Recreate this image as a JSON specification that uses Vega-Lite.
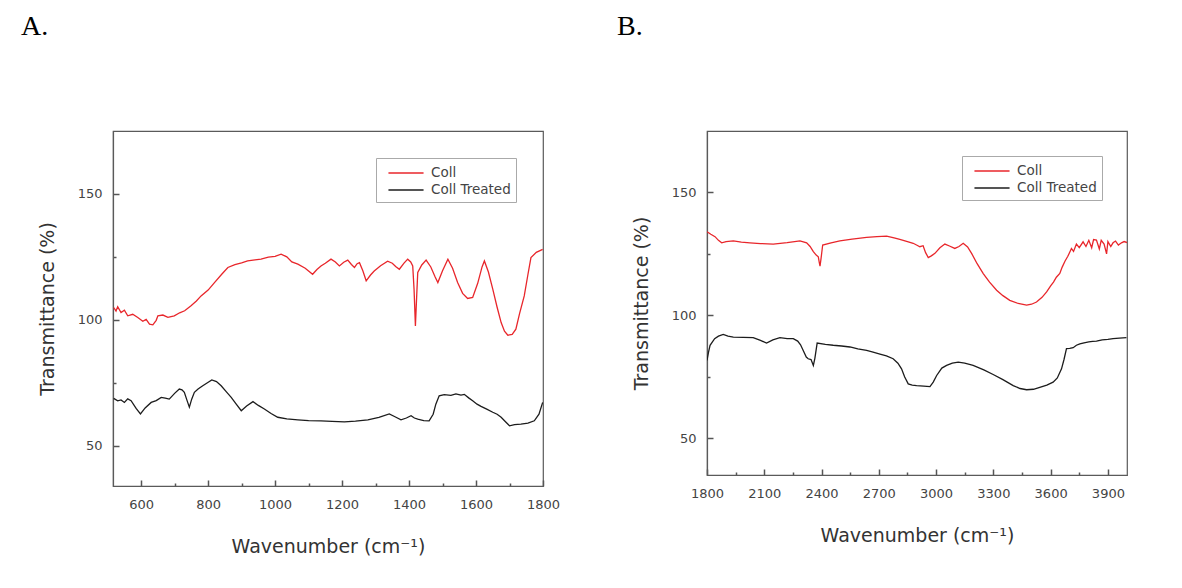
{
  "$schema": "https://vega.github.io/schema/vega-lite/v6.json",
  "background": "white",
  "padding": {"left": 20, "top": 12, "right": 0, "bottom": 0},
  "spacing": 55,
  "datasets": {
    "a": [
      {"series":"Coll","x":518,"y":104.9},{"series":"Coll","x":525,"y":103.5},{"series":"Coll","x":530,"y":105.2},{"series":"Coll","x":540,"y":102.9},{"series":"Coll","x":550,"y":103.8},{"series":"Coll","x":560,"y":101.6},{"series":"Coll","x":575,"y":102.2},{"series":"Coll","x":590,"y":100.9},{"series":"Coll","x":605,"y":99.4},{"series":"Coll","x":615,"y":100.2},{"series":"Coll","x":625,"y":98.3},{"series":"Coll","x":635,"y":98.0},{"series":"Coll","x":645,"y":99.8},{"series":"Coll","x":650,"y":101.6},{"series":"Coll","x":665,"y":101.9},{"series":"Coll","x":680,"y":101.0},{"series":"Coll","x":699,"y":101.6},{"series":"Coll","x":715,"y":102.8},{"series":"Coll","x":730,"y":103.6},{"series":"Coll","x":749,"y":105.6},{"series":"Coll","x":765,"y":107.5},{"series":"Coll","x":779,"y":109.5},{"series":"Coll","x":800,"y":111.8},{"series":"Coll","x":819,"y":114.8},{"series":"Coll","x":840,"y":118.0},{"series":"Coll","x":859,"y":120.8},{"series":"Coll","x":880,"y":121.9},{"series":"Coll","x":900,"y":122.6},{"series":"Coll","x":918,"y":123.4},{"series":"Coll","x":940,"y":123.8},{"series":"Coll","x":958,"y":124.1},{"series":"Coll","x":980,"y":124.9},{"series":"Coll","x":1000,"y":125.2},{"series":"Coll","x":1018,"y":126.1},{"series":"Coll","x":1035,"y":125.0},{"series":"Coll","x":1050,"y":123.0},{"series":"Coll","x":1068,"y":122.1},{"series":"Coll","x":1090,"y":120.5},{"series":"Coll","x":1112,"y":118.1},{"series":"Coll","x":1125,"y":120.0},{"series":"Coll","x":1137,"y":121.4},{"series":"Coll","x":1150,"y":122.5},{"series":"Coll","x":1167,"y":124.1},{"series":"Coll","x":1180,"y":123.0},{"series":"Coll","x":1192,"y":121.4},{"series":"Coll","x":1205,"y":122.9},{"series":"Coll","x":1217,"y":123.7},{"series":"Coll","x":1228,"y":122.0},{"series":"Coll","x":1237,"y":120.8},{"series":"Coll","x":1245,"y":122.3},{"series":"Coll","x":1252,"y":122.7},{"series":"Coll","x":1262,"y":119.5},{"series":"Coll","x":1272,"y":115.5},{"series":"Coll","x":1285,"y":117.8},{"series":"Coll","x":1296,"y":119.4},{"series":"Coll","x":1315,"y":121.5},{"series":"Coll","x":1336,"y":123.3},{"series":"Coll","x":1350,"y":122.5},{"series":"Coll","x":1360,"y":121.2},{"series":"Coll","x":1371,"y":120.1},{"series":"Coll","x":1385,"y":122.5},{"series":"Coll","x":1396,"y":124.1},{"series":"Coll","x":1405,"y":123.0},{"series":"Coll","x":1411,"y":121.4},{"series":"Coll","x":1415,"y":112.0},{"series":"Coll","x":1419,"y":97.6},{"series":"Coll","x":1423,"y":110.0},{"series":"Coll","x":1426,"y":118.8},{"series":"Coll","x":1438,"y":121.8},{"series":"Coll","x":1451,"y":123.7},{"series":"Coll","x":1465,"y":121.0},{"series":"Coll","x":1478,"y":117.0},{"series":"Coll","x":1486,"y":114.8},{"series":"Coll","x":1500,"y":119.5},{"series":"Coll","x":1516,"y":124.1},{"series":"Coll","x":1530,"y":120.5},{"series":"Coll","x":1545,"y":114.8},{"series":"Coll","x":1560,"y":110.5},{"series":"Coll","x":1575,"y":108.5},{"series":"Coll","x":1590,"y":108.9},{"series":"Coll","x":1605,"y":114.5},{"series":"Coll","x":1618,"y":121.0},{"series":"Coll","x":1625,"y":123.4},{"series":"Coll","x":1637,"y":119.0},{"series":"Coll","x":1650,"y":112.2},{"series":"Coll","x":1663,"y":105.0},{"series":"Coll","x":1675,"y":98.9},{"series":"Coll","x":1685,"y":95.5},{"series":"Coll","x":1695,"y":93.9},{"series":"Coll","x":1708,"y":94.2},{"series":"Coll","x":1719,"y":96.3},{"series":"Coll","x":1730,"y":102.5},{"series":"Coll","x":1744,"y":109.5},{"series":"Coll","x":1755,"y":118.0},{"series":"Coll","x":1764,"y":124.7},{"series":"Coll","x":1780,"y":126.8},{"series":"Coll","x":1799,"y":128.0},
      {"series":"Coll Treated","x":518,"y":68.8},{"series":"Coll Treated","x":530,"y":67.8},{"series":"Coll Treated","x":540,"y":68.2},{"series":"Coll Treated","x":550,"y":67.2},{"series":"Coll Treated","x":560,"y":68.6},{"series":"Coll Treated","x":570,"y":67.9},{"series":"Coll Treated","x":585,"y":64.8},{"series":"Coll Treated","x":598,"y":62.6},{"series":"Coll Treated","x":612,"y":65.0},{"series":"Coll Treated","x":630,"y":67.2},{"series":"Coll Treated","x":645,"y":67.9},{"series":"Coll Treated","x":660,"y":69.2},{"series":"Coll Treated","x":672,"y":68.9},{"series":"Coll Treated","x":684,"y":68.5},{"series":"Coll Treated","x":700,"y":70.8},{"series":"Coll Treated","x":714,"y":72.5},{"series":"Coll Treated","x":722,"y":72.2},{"series":"Coll Treated","x":729,"y":71.2},{"series":"Coll Treated","x":737,"y":68.0},{"series":"Coll Treated","x":744,"y":65.3},{"series":"Coll Treated","x":751,"y":68.5},{"series":"Coll Treated","x":759,"y":71.2},{"series":"Coll Treated","x":770,"y":72.5},{"series":"Coll Treated","x":784,"y":73.8},{"series":"Coll Treated","x":798,"y":75.0},{"series":"Coll Treated","x":811,"y":76.1},{"series":"Coll Treated","x":825,"y":75.5},{"series":"Coll Treated","x":839,"y":73.8},{"series":"Coll Treated","x":854,"y":71.5},{"series":"Coll Treated","x":869,"y":69.2},{"series":"Coll Treated","x":884,"y":66.5},{"series":"Coll Treated","x":899,"y":63.9},{"series":"Coll Treated","x":915,"y":65.8},{"series":"Coll Treated","x":934,"y":67.5},{"series":"Coll Treated","x":950,"y":66.0},{"series":"Coll Treated","x":968,"y":64.6},{"series":"Coll Treated","x":988,"y":62.8},{"series":"Coll Treated","x":1008,"y":61.3},{"series":"Coll Treated","x":1035,"y":60.7},{"series":"Coll Treated","x":1068,"y":60.3},{"series":"Coll Treated","x":1100,"y":60.0},{"series":"Coll Treated","x":1137,"y":59.9},{"series":"Coll Treated","x":1170,"y":59.7},{"series":"Coll Treated","x":1207,"y":59.5},{"series":"Coll Treated","x":1240,"y":59.8},{"series":"Coll Treated","x":1277,"y":60.3},{"series":"Coll Treated","x":1310,"y":61.3},{"series":"Coll Treated","x":1341,"y":62.6},{"series":"Coll Treated","x":1358,"y":61.5},{"series":"Coll Treated","x":1376,"y":60.3},{"series":"Coll Treated","x":1392,"y":61.0},{"series":"Coll Treated","x":1406,"y":61.9},{"series":"Coll Treated","x":1416,"y":61.0},{"series":"Coll Treated","x":1426,"y":60.6},{"series":"Coll Treated","x":1444,"y":60.0},{"series":"Coll Treated","x":1460,"y":59.9},{"series":"Coll Treated","x":1472,"y":62.5},{"series":"Coll Treated","x":1480,"y":66.5},{"series":"Coll Treated","x":1490,"y":69.8},{"series":"Coll Treated","x":1505,"y":70.3},{"series":"Coll Treated","x":1525,"y":70.0},{"series":"Coll Treated","x":1540,"y":70.6},{"series":"Coll Treated","x":1555,"y":70.1},{"series":"Coll Treated","x":1565,"y":70.4},{"series":"Coll Treated","x":1578,"y":69.0},{"series":"Coll Treated","x":1590,"y":67.9},{"series":"Coll Treated","x":1603,"y":66.5},{"series":"Coll Treated","x":1615,"y":65.6},{"series":"Coll Treated","x":1632,"y":64.5},{"series":"Coll Treated","x":1650,"y":63.3},{"series":"Coll Treated","x":1663,"y":62.5},{"series":"Coll Treated","x":1675,"y":61.3},{"series":"Coll Treated","x":1688,"y":59.5},{"series":"Coll Treated","x":1700,"y":57.9},{"series":"Coll Treated","x":1715,"y":58.4},{"series":"Coll Treated","x":1734,"y":58.6},{"series":"Coll Treated","x":1755,"y":59.0},{"series":"Coll Treated","x":1774,"y":59.9},{"series":"Coll Treated","x":1788,"y":62.5},{"series":"Coll Treated","x":1799,"y":67.2}
    ],
    "b": [
      {"series":"Coll","x":1800,"y":134.0},{"series":"Coll","x":1820,"y":133.0},{"series":"Coll","x":1842,"y":132.0},{"series":"Coll","x":1860,"y":130.5},{"series":"Coll","x":1877,"y":129.5},{"series":"Coll","x":1900,"y":130.0},{"series":"Coll","x":1938,"y":130.3},{"series":"Coll","x":1980,"y":129.8},{"series":"Coll","x":2025,"y":129.5},{"series":"Coll","x":2080,"y":129.2},{"series":"Coll","x":2147,"y":129.0},{"series":"Coll","x":2220,"y":129.6},{"series":"Coll","x":2287,"y":130.3},{"series":"Coll","x":2322,"y":129.5},{"series":"Coll","x":2340,"y":128.0},{"series":"Coll","x":2357,"y":125.9},{"series":"Coll","x":2372,"y":124.5},{"series":"Coll","x":2383,"y":123.8},{"series":"Coll","x":2388,"y":121.5},{"series":"Coll","x":2392,"y":120.0},{"series":"Coll","x":2398,"y":123.5},{"series":"Coll","x":2406,"y":128.6},{"series":"Coll","x":2450,"y":129.5},{"series":"Coll","x":2496,"y":130.3},{"series":"Coll","x":2560,"y":131.0},{"series":"Coll","x":2636,"y":131.7},{"series":"Coll","x":2690,"y":132.0},{"series":"Coll","x":2741,"y":132.2},{"series":"Coll","x":2780,"y":131.5},{"series":"Coll","x":2810,"y":130.9},{"series":"Coll","x":2850,"y":130.0},{"series":"Coll","x":2880,"y":129.3},{"series":"Coll","x":2900,"y":128.5},{"series":"Coll","x":2915,"y":127.9},{"series":"Coll","x":2932,"y":128.3},{"series":"Coll","x":2945,"y":125.5},{"series":"Coll","x":2959,"y":123.5},{"series":"Coll","x":2975,"y":124.2},{"series":"Coll","x":2994,"y":125.2},{"series":"Coll","x":3020,"y":127.5},{"series":"Coll","x":3046,"y":129.0},{"series":"Coll","x":3070,"y":128.2},{"series":"Coll","x":3098,"y":127.2},{"series":"Coll","x":3120,"y":128.0},{"series":"Coll","x":3142,"y":129.3},{"series":"Coll","x":3165,"y":127.8},{"series":"Coll","x":3186,"y":125.2},{"series":"Coll","x":3215,"y":121.0},{"series":"Coll","x":3247,"y":117.0},{"series":"Coll","x":3280,"y":113.5},{"series":"Coll","x":3317,"y":110.2},{"series":"Coll","x":3350,"y":108.0},{"series":"Coll","x":3386,"y":106.1},{"series":"Coll","x":3430,"y":104.8},{"series":"Coll","x":3474,"y":104.1},{"series":"Coll","x":3500,"y":104.5},{"series":"Coll","x":3526,"y":105.4},{"series":"Coll","x":3555,"y":107.3},{"series":"Coll","x":3579,"y":109.5},{"series":"Coll","x":3600,"y":112.0},{"series":"Coll","x":3615,"y":113.5},{"series":"Coll","x":3630,"y":115.5},{"series":"Coll","x":3648,"y":117.0},{"series":"Coll","x":3660,"y":119.5},{"series":"Coll","x":3675,"y":122.0},{"series":"Coll","x":3690,"y":124.0},{"series":"Coll","x":3709,"y":127.2},{"series":"Coll","x":3720,"y":126.0},{"series":"Coll","x":3735,"y":129.0},{"series":"Coll","x":3750,"y":127.5},{"series":"Coll","x":3770,"y":129.9},{"series":"Coll","x":3785,"y":128.0},{"series":"Coll","x":3800,"y":130.5},{"series":"Coll","x":3815,"y":127.5},{"series":"Coll","x":3825,"y":130.8},{"series":"Coll","x":3840,"y":130.6},{"series":"Coll","x":3855,"y":127.0},{"series":"Coll","x":3865,"y":130.5},{"series":"Coll","x":3880,"y":129.0},{"series":"Coll","x":3893,"y":125.0},{"series":"Coll","x":3900,"y":130.0},{"series":"Coll","x":3915,"y":128.0},{"series":"Coll","x":3927,"y":129.5},{"series":"Coll","x":3940,"y":130.2},{"series":"Coll","x":3955,"y":128.6},{"series":"Coll","x":3971,"y":129.5},{"series":"Coll","x":3985,"y":130.0},{"series":"Coll","x":4000,"y":129.6},
      {"series":"Coll Treated","x":1800,"y":81.6},{"series":"Coll Treated","x":1808,"y":85.0},{"series":"Coll Treated","x":1816,"y":87.8},{"series":"Coll Treated","x":1840,"y":90.5},{"series":"Coll Treated","x":1860,"y":91.5},{"series":"Coll Treated","x":1885,"y":92.2},{"series":"Coll Treated","x":1910,"y":91.5},{"series":"Coll Treated","x":1938,"y":91.1},{"series":"Coll Treated","x":1990,"y":91.0},{"series":"Coll Treated","x":2042,"y":90.9},{"series":"Coll Treated","x":2080,"y":89.8},{"series":"Coll Treated","x":2112,"y":88.7},{"series":"Coll Treated","x":2145,"y":90.0},{"series":"Coll Treated","x":2182,"y":90.9},{"series":"Coll Treated","x":2220,"y":90.5},{"series":"Coll Treated","x":2252,"y":90.5},{"series":"Coll Treated","x":2275,"y":89.5},{"series":"Coll Treated","x":2290,"y":88.0},{"series":"Coll Treated","x":2304,"y":85.7},{"series":"Coll Treated","x":2320,"y":83.0},{"series":"Coll Treated","x":2330,"y":82.3},{"series":"Coll Treated","x":2345,"y":82.0},{"series":"Coll Treated","x":2357,"y":79.6},{"series":"Coll Treated","x":2365,"y":82.5},{"series":"Coll Treated","x":2377,"y":88.7},{"series":"Coll Treated","x":2420,"y":88.2},{"series":"Coll Treated","x":2461,"y":87.8},{"series":"Coll Treated","x":2505,"y":87.5},{"series":"Coll Treated","x":2549,"y":87.1},{"series":"Coll Treated","x":2590,"y":86.3},{"series":"Coll Treated","x":2636,"y":85.7},{"series":"Coll Treated","x":2670,"y":85.0},{"series":"Coll Treated","x":2706,"y":84.2},{"series":"Coll Treated","x":2740,"y":83.5},{"series":"Coll Treated","x":2775,"y":82.3},{"series":"Coll Treated","x":2800,"y":80.5},{"series":"Coll Treated","x":2819,"y":78.2},{"series":"Coll Treated","x":2835,"y":75.0},{"series":"Coll Treated","x":2854,"y":72.1},{"series":"Coll Treated","x":2875,"y":71.6},{"series":"Coll Treated","x":2898,"y":71.4},{"series":"Coll Treated","x":2935,"y":71.2},{"series":"Coll Treated","x":2968,"y":71.0},{"series":"Coll Treated","x":2985,"y":72.8},{"series":"Coll Treated","x":3003,"y":75.5},{"series":"Coll Treated","x":3030,"y":78.5},{"series":"Coll Treated","x":3055,"y":79.6},{"series":"Coll Treated","x":3085,"y":80.5},{"series":"Coll Treated","x":3116,"y":80.9},{"series":"Coll Treated","x":3150,"y":80.5},{"series":"Coll Treated","x":3194,"y":79.6},{"series":"Coll Treated","x":3250,"y":77.8},{"series":"Coll Treated","x":3299,"y":75.9},{"series":"Coll Treated","x":3350,"y":73.8},{"series":"Coll Treated","x":3404,"y":71.4},{"series":"Coll Treated","x":3440,"y":70.2},{"series":"Coll Treated","x":3474,"y":69.7},{"series":"Coll Treated","x":3510,"y":69.9},{"series":"Coll Treated","x":3543,"y":70.7},{"series":"Coll Treated","x":3580,"y":71.6},{"series":"Coll Treated","x":3613,"y":72.8},{"series":"Coll Treated","x":3635,"y":74.5},{"series":"Coll Treated","x":3657,"y":78.2},{"series":"Coll Treated","x":3670,"y":82.0},{"series":"Coll Treated","x":3683,"y":86.4},{"series":"Coll Treated","x":3700,"y":86.5},{"series":"Coll Treated","x":3718,"y":86.8},{"series":"Coll Treated","x":3735,"y":87.8},{"series":"Coll Treated","x":3753,"y":88.4},{"series":"Coll Treated","x":3775,"y":88.8},{"series":"Coll Treated","x":3800,"y":89.2},{"series":"Coll Treated","x":3820,"y":89.4},{"series":"Coll Treated","x":3840,"y":89.5},{"series":"Coll Treated","x":3870,"y":90.0},{"series":"Coll Treated","x":3900,"y":90.2},{"series":"Coll Treated","x":3927,"y":90.5},{"series":"Coll Treated","x":3960,"y":90.7},{"series":"Coll Treated","x":3997,"y":90.9}
    ]
  },
  "hconcat": [
    {
      "title": {"text": "A.", "anchor": "start", "frame": "group", "dx": -92, "offset": 90},
      "width": 430,
      "height": 355,
      "data": {"name": "a"},
      "mark": {"type": "line", "strokeWidth": 1.3, "clip": true},
      "encoding": {
        "x": {"field": "x", "type": "quantitative", "scale": {"domain": [516, 1800], "nice": false},
          "title": "Wavenumber (cm⁻¹)",
          "axis": {"values": [600,700,800,900,1000,1100,1200,1300,1400,1500,1600,1700,1800], "format": "d",
            "labelExpr": "datum.value % 200 == 0 ? datum.label : ''",
            "tickSize": {"condition": {"test": "datum.value % 200 == 0", "value": -6}, "value": -3}}},
        "y": {"field": "y", "type": "quantitative", "scale": {"domain": [34, 175], "nice": false},
          "title": "Transmittance (%)",
          "axis": {"values": [50,75,100,125,150], "format": "d",
            "labelExpr": "datum.value % 50 == 0 ? datum.label : ''",
            "tickSize": {"condition": {"test": "datum.value % 50 == 0", "value": -6}, "value": -3}}},
        "color": {"field": "series", "type": "nominal",
          "scale": {"domain": ["Coll", "Coll Treated"], "range": ["#e8262b", "#1c1c1c"]},
          "legend": {"orient": "top-right", "offset": 27}}
      }
    },
    {
      "title": {"text": "B.", "anchor": "start", "frame": "group", "dx": -90, "offset": 90},
      "width": 420,
      "height": 344,
      "data": {"name": "b"},
      "mark": {"type": "line", "strokeWidth": 1.3, "clip": true},
      "encoding": {
        "x": {"field": "x", "type": "quantitative", "scale": {"domain": [1800, 4000], "nice": false},
          "title": "Wavenumber (cm⁻¹)",
          "axis": {"values": [1800,1950,2100,2250,2400,2550,2700,2850,3000,3150,3300,3450,3600,3750,3900], "format": "d",
            "labelExpr": "datum.value % 300 == 0 ? datum.label : ''",
            "tickSize": {"condition": {"test": "datum.value % 300 == 0", "value": -6}, "value": -3}}},
        "y": {"field": "y", "type": "quantitative", "scale": {"domain": [35, 175], "nice": false},
          "title": "Transmittance (%)",
          "axis": {"values": [50,75,100,125,150], "format": "d",
            "labelExpr": "datum.value % 50 == 0 ? datum.label : ''",
            "tickSize": {"condition": {"test": "datum.value % 50 == 0", "value": -6}, "value": -3}}},
        "color": {"field": "series", "type": "nominal",
          "scale": {"domain": ["Coll", "Coll Treated"], "range": ["#e8262b", "#1c1c1c"]},
          "legend": {"orient": "top-right", "offset": 25}}
      }
    }
  ],
  "resolve": {"scale": {"color": "independent"}, "legend": {"color": "independent"}},
  "config": {
    "view": {"stroke": "#5a5a5a", "strokeWidth": 1.2},
    "title": {"font": "Liberation Serif", "fontSize": 28, "fontWeight": "normal", "color": "#000", "baseline": "alphabetic"},
    "axis": {
      "grid": false,
      "domainColor": "#5a5a5a",
      "domainWidth": 1.2,
      "tickColor": "#555",
      "tickWidth": 1.5,
      "labelFont": "DejaVu Sans",
      "labelFontSize": 13,
      "labelColor": "#444",
      "labelFlush": false,
      "labelOverlap": false,
      "titleFont": "DejaVu Sans",
      "titleFontSize": 19,
      "titleFontWeight": "normal",
      "titleColor": "#333"
    },
    "axisX": {"labelPadding": 18, "titlePadding": 23},
    "axisY": {"labelPadding": 17, "titlePadding": 20},
    "legend": {
      "title": null,
      "strokeColor": "#aaa",
      "padding": 5,
      "symbolType": "M-1.95,0H1.95",
      "symbolSize": 324,
      "symbolOffset": 15,
      "symbolStrokeWidth": 1.5,
      "labelFont": "DejaVu Sans",
      "labelFontSize": 13.5,
      "labelOffset": 15,
      "labelColor": "#444",
      "rowPadding": 0,
      "fillColor": "white"
    }
  }
}
